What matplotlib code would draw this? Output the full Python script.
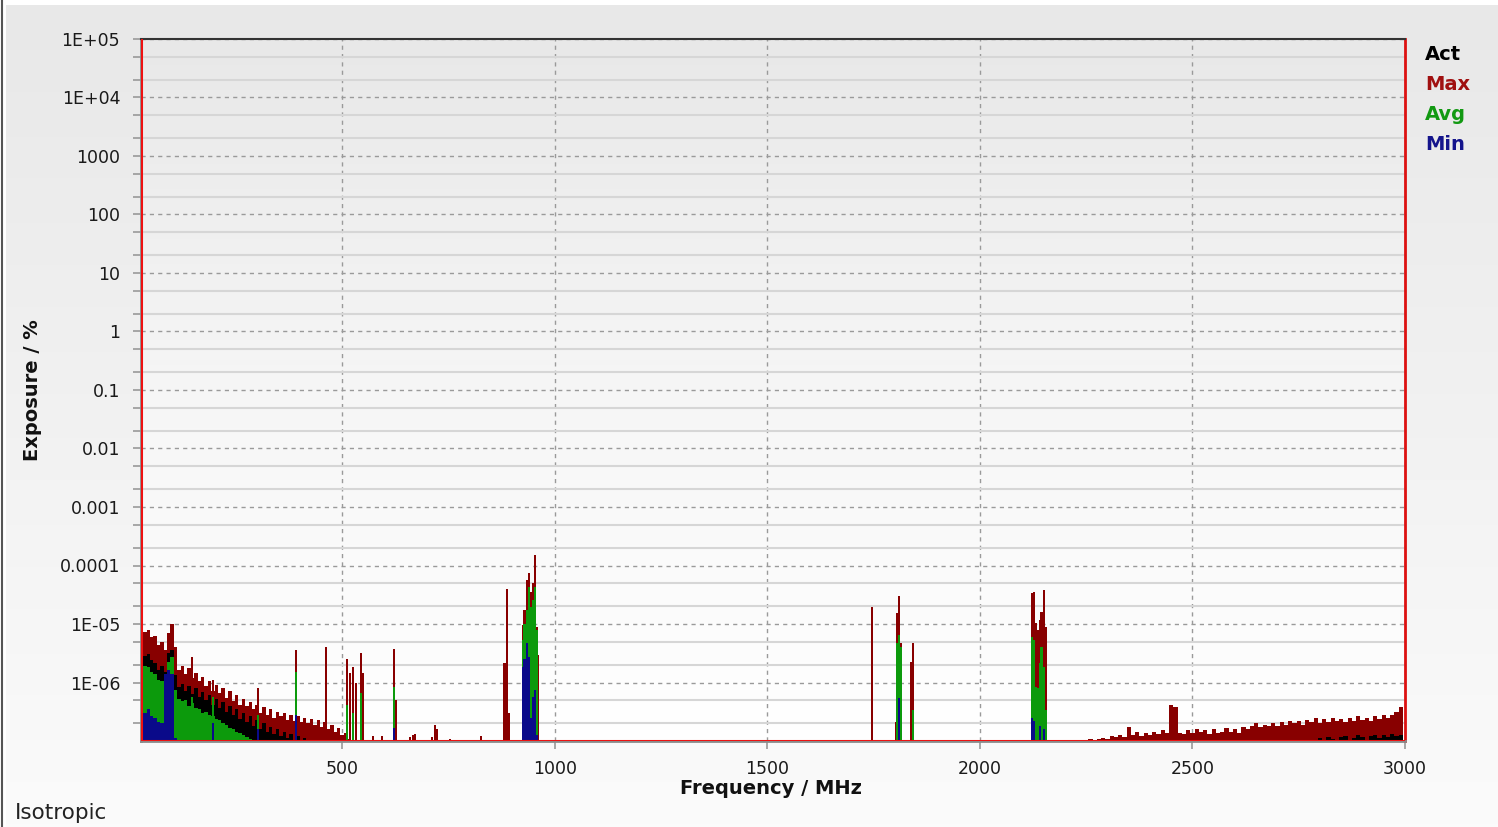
import numpy as np
import matplotlib.pyplot as plt
from matplotlib.colors import LinearSegmentedColormap
from matplotlib.ticker import FixedLocator, FuncFormatter, NullFormatter

# exponents (log10 of exposure in %)
# low band continuum, 8 MHz bins
f_low = np.arange(28, 524, 8)
max_low = [-5.02, -5.14, -5.10, -5.22, -5.20, -5.36, -5.30, -5.45, -5.15, -5.00,
           -5.40, -5.78, -5.72, -5.86, -5.76, -5.92, -5.84, -5.98, -5.90, -6.06,
           -5.98, -6.14, -6.05, -6.18, -6.10, -6.26, -6.15, -6.32, -6.22, -6.38,
           -6.28, -6.40, -6.34, -6.46, -6.38, -6.52, -6.42, -6.56, -6.46, -6.60,
           -6.50, -6.58, -6.52, -6.64, -6.55, -6.66, -6.57, -6.68, -6.60, -6.70,
           -6.62, -6.72, -6.64, -6.76, -6.68, -6.80, -6.72, -6.84, -6.78, -6.90,
           -6.86, -6.96]
act_low = [-5.30, -5.55, -5.52, -5.62, -5.66, -5.78, -5.72, -5.82, -5.50, -5.45,
           -5.88, -6.08, -6.02, -6.14, -6.06, -6.20, -6.10, -6.24, -6.16, -6.30,
           -6.22, -6.38, -6.28, -6.44, -6.34, -6.50, -6.40, -6.56, -6.46, -6.62,
           -6.52, -6.68, -6.58, -6.74, -6.64, -6.80, -6.70, -6.84, -6.76, -6.88,
           -6.80, -6.92, -6.84, -6.95, -6.88, -6.98, -6.92, -7.00, -6.95, -7.00]
avg_low = [-5.56, -5.72, -5.74, -5.82, -5.86, -5.96, -5.98, -5.92, -5.65, -5.56,
           -6.12, -6.28, -6.32, -6.30, -6.40, -6.35, -6.44, -6.45, -6.52, -6.50,
           -6.56, -6.58, -6.63, -6.64, -6.70, -6.72, -6.77, -6.79, -6.84, -6.86,
           -6.90, -6.93, -6.96, -7.00]
min_low = [-6.40, -6.52, -6.45, -6.58, -6.60, -6.68, -6.70, -5.85, -5.79, -5.85,
           -6.95]

# high band continuum, 10 MHz bins
f_high = np.arange(2250, 3000, 10)
max_high = [-7.20, -6.97, -7.20, -6.97, -6.95, -6.96, -6.92, -6.94, -6.90, -6.93,
            -6.76, -6.90, -6.85, -6.92, -6.86, -6.90, -6.84, -6.88, -6.82, -6.87,
            -6.38, -6.42, -6.86, -6.88, -6.82, -6.86, -6.80, -6.85, -6.82, -6.88,
            -6.80, -6.86, -6.84, -6.78, -6.85, -6.80, -6.86, -6.76, -6.80, -6.74,
            -6.70, -6.76, -6.72, -6.75, -6.70, -6.74, -6.68, -6.73, -6.66, -6.70,
            -6.65, -6.72, -6.64, -6.68, -6.60, -6.70, -6.63, -6.68, -6.60, -6.66,
            -6.62, -6.68, -6.60, -6.65, -6.58, -6.64, -6.60, -6.66, -6.58, -6.62,
            -6.56, -6.60, -6.55, -6.50, -6.42]
f_act_high = np.arange(2800, 3000, 10)
act_high = [-6.95, -7.20, -6.93, -6.96, -7.20, -6.94, -6.92, -7.20, -6.95, -6.90,
            -6.93, -7.20, -6.92, -6.90, -6.95, -6.90, -6.93, -6.88, -6.92, -6.90]

# narrow carriers
max_pk_f = [146, 197, 303, 392, 462, 512, 519, 526, 533, 545, 550, 573, 594, 623, 627,
            660, 667, 672, 712, 718, 722, 753, 826, 882, 887, 892,
            925, 929, 934, 939, 944, 948, 953, 958, 960,
            1746, 1803, 1805, 1810, 1814, 1838, 1843,
            2122, 2127, 2131, 2136, 2141, 2145, 2150, 2155]
max_pk = [-5.56, -5.95, -6.10, -5.44, -5.39, -5.60, -5.84, -5.74, -6.00, -5.50, -5.84,
          -6.91, -6.91, -5.43, -6.30, -6.93, -6.90, -6.88, -6.93, -6.73, -6.80, -6.97,
          -6.92, -5.67, -4.40, -6.52,
          -5.02, -4.76, -4.25, -4.13, -4.45, -4.30, -3.82, -5.05, -5.53,
          -4.71, -6.68, -4.81, -4.52, -5.32, -5.65, -5.32,
          -4.47, -4.45, -4.98, -5.10, -4.93, -4.80, -4.42, -5.05]
avg_pk_f = [146, 197, 303, 392, 512, 526, 545, 623,
            925, 929, 934, 939, 944, 948, 953, 958,
            1805, 1810, 1814, 1843,
            2122, 2127, 2131, 2136, 2141, 2145, 2150, 2155]
avg_pk = [-6.25, -6.25, -6.55, -5.82, -6.38, -6.52, -6.18, -6.08,
          -5.27, -5.00, -4.76, -4.37, -4.71, -4.59, -4.37, -5.10,
          -5.32, -5.19, -5.39, -6.47,
          -5.22, -5.27, -6.08, -6.10, -5.67, -5.39, -5.74, -6.47]
min_pk_f = [197, 303, 392, 623, 925, 929, 934, 939, 944, 948, 953, 958,
            1810, 2122, 2127, 2141, 2150]
min_pk = [-6.69, -6.80, -6.56, -6.78, -5.74, -5.60, -5.32, -5.56, -6.60, -6.25,
          -6.13, -6.90, -6.26, -6.60, -6.65, -6.75, -6.80]

yticks = [1e-6, 1e-5, 1e-4, 1e-3, 1e-2, 1e-1, 1, 10, 100, 1000, 1e4, 1e5]
ylabels = ['1E-06', '1E-05', '0.0001', '0.001', '0.01', '0.1', '1', '10', '100',
           '1000', '1E+04', '1E+05']
xticks = [500, 1000, 1500, 2000, 2500, 3000]

c_act = '#000000'
c_max = '#880000'
c_avg = '#0c9a0c'
c_min = '#0a0a8a'

W, H = 1498, 827
fig = plt.figure(figsize=(W / 100, H / 100), dpi=100)
fig.patch.set_facecolor('white')

# figure background gradient
bg = fig.add_axes([6 / W, 0, 1 - 6 / W, 1 - 5 / H], zorder=-2)
bg_cmap = LinearSegmentedColormap.from_list('bg', ['#fbfbfb', '#e8e8e8'])
bg.imshow(np.linspace(0, 1, 256).reshape(-1, 1), cmap=bg_cmap, aspect='auto',
          origin='lower', extent=[0, 1, 0, 1])
bg.set_axis_off()
fig.add_artist(plt.Line2D([1.5 / W, 1.5 / W], [0, 1], color='#555555', lw=1.5))

L, R, T, B = 141, 1405, 39, 741
rect = [L / W, 1 - B / H, (R - L) / W, (B - T) / H]
abg = fig.add_axes(rect, zorder=-1)
ax_cmap = LinearSegmentedColormap.from_list('ax', ['#ffffff', '#f6f6f6', '#e8e8e8'])
abg.imshow(np.linspace(0, 1, 256).reshape(-1, 1), cmap=ax_cmap, aspect='auto',
           origin='lower', extent=[0, 1, 0, 1])
abg.set_axis_off()

ax = fig.add_axes(rect)
ax.patch.set_alpha(0)
ax.set_yscale('log')
floor = 1e-8


def draw(f, logv, width, color, z):
    v = 10 ** np.array(logv, dtype=float)
    ax.bar(f, v - floor, bottom=floor, width=width, color=color, linewidth=0,
           zorder=z, align='center')


draw(f_low, max_low, 8, c_max, 2)
draw(f_high, max_high, 10, c_max, 2)
draw(max_pk_f, max_pk, 5, c_max, 2)
draw(f_low[:len(act_low)], act_low, 8, c_act, 3)
draw(f_act_high, act_high, 10, c_act, 3)
draw(f_low[:len(avg_low)], avg_low, 8, c_avg, 4)
draw(avg_pk_f, avg_pk, 5, c_avg, 4)
draw(f_low[:len(min_low)], min_low, 8, c_min, 5)
draw(min_pk_f, min_pk, 5, c_min, 5)

ax.set_xlim(27, 3000)
ax.set_ylim(1e-7, 1e5)

ax.yaxis.set_major_locator(FixedLocator(yticks))
ax.yaxis.set_major_formatter(FuncFormatter(lambda v, p: ylabels[yticks.index(v)] if v in yticks else ''))
minors = [m * 10.0 ** e for e in range(-7, 5) for m in (2, 5)]
ax.yaxis.set_minor_locator(FixedLocator(minors))
ax.yaxis.set_minor_formatter(NullFormatter())
ax.xaxis.set_major_locator(FixedLocator(xticks))
ax.xaxis.set_minor_locator(FixedLocator([]))

ax.tick_params(axis='both', which='both', colors='#999999', labelcolor='#1a1a1a',
               labelsize=12.5, length=6, width=1.2)
ax.tick_params(axis='y', pad=9)
ax.tick_params(axis='x', pad=8)

ax.set_axisbelow(True)
ax.grid(True, which='major', axis='both', color='#9a9a9a', ls=(0, (3, 3)), lw=1)
ax.grid(True, which='minor', axis='y', color='#d6d6d6', ls='-', lw=1.5)

for s in ['left', 'bottom']:
    ax.spines[s].set_color('#8a8a8a')
    ax.spines[s].set_linewidth(2)
ax.spines['top'].set_color('#333333')
ax.spines['top'].set_linewidth(1.5)
ax.spines['right'].set_color('#dd1111')
ax.spines['right'].set_linewidth(2)
ax.axvline(27, color='#ee1111', lw=2.2, zorder=6)
ax.axhline(1e-7, color='#ee1111', lw=2.2, zorder=6)

fig.text(33 / W, 1 - 390 / H, 'Exposure / %', rotation=90, ha='center', va='center',
         fontsize=14, fontweight='bold', color='#111111')
fig.text(771 / W, 1 - 789 / H, 'Frequency / MHz', ha='center', va='center',
         fontsize=14, fontweight='bold', color='#111111')

for name, col, yy in [('Act', c_act, 54), ('Max', '#a01010', 84),
                      ('Avg', '#129912', 115), ('Min', '#14148c', 145)]:
    fig.text(1425 / W, 1 - yy / H, name, ha='left', va='center', fontsize=14,
             fontweight='bold', color=col)

fig.text(15 / W, 1 - 813 / H, 'Isotropic', ha='left', va='center', fontsize=15.5,
         color='#222222')

fig.savefig('out.png', dpi=100)
